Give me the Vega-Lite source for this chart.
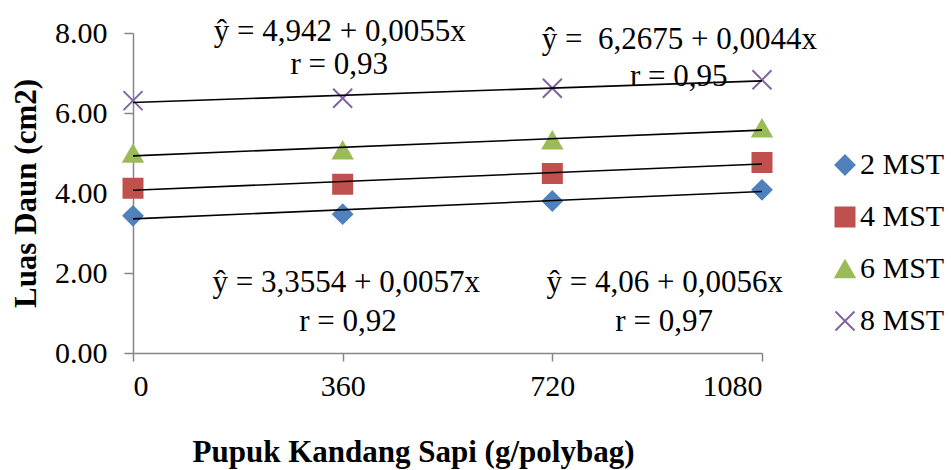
{
  "$schema": "https://vega.github.io/schema/vega-lite/v6.json",
  "width": 629,
  "height": 320,
  "autosize": "none",
  "padding": {"left": 133, "top": 33, "right": 189, "bottom": 117},
  "background": "white",
  "config": {
    "view": {"stroke": null},
    "font": "Liberation Serif",
    "axis": {
      "grid": false,
      "domainColor": "#868686",
      "tickColor": "#868686",
      "domainWidth": 1.5,
      "tickWidth": 1.5,
      "labelFont": "Liberation Serif",
      "labelFontSize": 30,
      "labelColor": "black",
      "titleFont": "Liberation Serif",
      "titleFontSize": 31,
      "titleFontWeight": "bold",
      "titleColor": "black"
    },
    "legend": {
      "orient": "none",
      "legendX": 697,
      "legendY": 117,
      "padding": 0,
      "labelFont": "Liberation Serif",
      "labelFontSize": 30,
      "labelColor": "black",
      "rowPadding": 22,
      "labelOffset": 0,
      "symbolSize": 361,
      "symbolStrokeWidth": 2
    }
  },
  "datasets": {
    "points": [
      {"series": "2 MST", "dose": 0, "luas": 3.43},
      {"series": "2 MST", "dose": 360, "luas": 3.47},
      {"series": "2 MST", "dose": 720, "luas": 3.80},
      {"series": "2 MST", "dose": 1080, "luas": 4.08},
      {"series": "4 MST", "dose": 0, "luas": 4.12},
      {"series": "4 MST", "dose": 360, "luas": 4.22},
      {"series": "4 MST", "dose": 720, "luas": 4.49},
      {"series": "4 MST", "dose": 1080, "luas": 4.76},
      {"series": "6 MST", "dose": 0, "luas": 4.99},
      {"series": "6 MST", "dose": 360, "luas": 5.07},
      {"series": "6 MST", "dose": 720, "luas": 5.32},
      {"series": "6 MST", "dose": 1080, "luas": 5.62},
      {"series": "8 MST", "dose": 0, "luas": 6.31},
      {"series": "8 MST", "dose": 360, "luas": 6.37},
      {"series": "8 MST", "dose": 720, "luas": 6.62},
      {"series": "8 MST", "dose": 1080, "luas": 6.83}
    ],
    "notes": [
      {"dose": 355, "luas": 8.02, "label": "ŷ = 4,942 + 0,0055x"},
      {"dose": 354, "luas": 7.2, "label": "r = 0,93"},
      {"dose": 938, "luas": 7.82, "label": "ŷ = \u00a06,2675 + 0,0044x"},
      {"dose": 937, "luas": 6.9, "label": "r = 0,95"},
      {"dose": 366, "luas": 1.75, "label": "ŷ = 3,3554 + 0,0057x"},
      {"dose": 369, "luas": 0.78, "label": "r = 0,92"},
      {"dose": 913, "luas": 1.75, "label": "ŷ = 4,06 + 0,0056x"},
      {"dose": 912, "luas": 0.78, "label": "r = 0,97"}
    ]
  },
  "layer": [
    {
      "data": {"name": "points"},
      "mark": {"type": "point", "filled": true, "size": 361, "strokeWidth": 2, "opacity": 1},
      "encoding": {
        "x": {
          "field": "dose",
          "type": "quantitative",
          "scale": {"domain": [0, 1080], "nice": false, "zero": false},
          "axis": {
            "values": [0, 360, 720, 1080],
            "format": "d",
            "tickSize": 8,
            "labelPadding": 10,
            "title": "Pupuk Kandang Sapi (g/polybag)",
            "titleX": 280,
            "titleY": 108,
            "titleAlign": "center",
            "titleBaseline": "alphabetic"
          }
        },
        "y": {
          "field": "luas",
          "type": "quantitative",
          "scale": {"domain": [0, 8], "nice": false},
          "axis": {
            "values": [0, 2, 4, 6, 8],
            "format": ".2f",
            "tickSize": 9,
            "labelPadding": 17,
            "titlePadding": 12,
            "title": "Luas Daun (cm2)"
          }
        },
        "color": {
          "field": "series",
          "type": "nominal",
          "scale": {"domain": ["2 MST", "4 MST", "6 MST", "8 MST"], "range": ["#4F81BD", "#C0504D", "#9BBB59", "#8064A2"]},
          "legend": {"title": null}
        },
        "stroke": {
          "field": "series",
          "type": "nominal",
          "scale": {"domain": ["2 MST", "4 MST", "6 MST", "8 MST"], "range": ["#4F81BD", "#C0504D", "#9BBB59", "#8064A2"]},
          "legend": {"title": null}
        },
        "shape": {
          "field": "series",
          "type": "nominal",
          "scale": {"domain": ["2 MST", "4 MST", "6 MST", "8 MST"], "range": ["diamond", "square", "triangle-up", "M-1,-1L1,1M1,-1L-1,1"]},
          "legend": {"title": null}
        }
      }
    },
    {
      "data": {"name": "points"},
      "transform": [
        {"regression": "luas", "on": "dose", "groupby": ["series"], "extent": [0, 1080]}
      ],
      "mark": {"type": "line", "color": "black", "strokeWidth": 1.6},
      "encoding": {
        "x": {"field": "dose", "type": "quantitative"},
        "y": {"field": "luas", "type": "quantitative"},
        "detail": {"field": "series", "type": "nominal"}
      }
    },
    {
      "data": {"name": "notes"},
      "mark": {"type": "text", "font": "Liberation Serif", "fontSize": 31, "color": "black", "align": "center", "baseline": "middle"},
      "encoding": {
        "x": {"field": "dose", "type": "quantitative"},
        "y": {"field": "luas", "type": "quantitative"},
        "text": {"field": "label", "type": "nominal"}
      }
    }
  ]
}
